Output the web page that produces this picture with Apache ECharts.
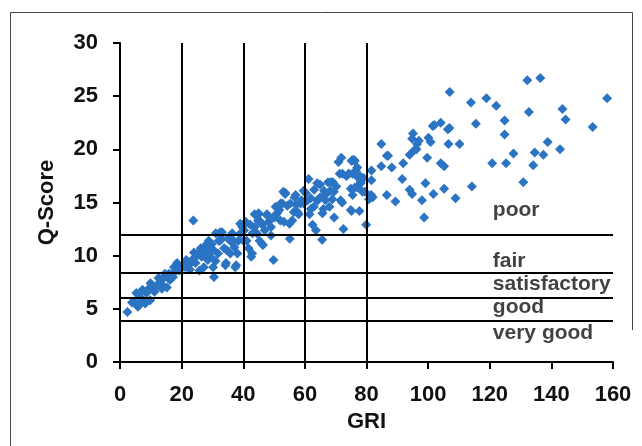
<!DOCTYPE html>
<html>
<head>
<meta charset="utf-8">
<script src="https://cdn.jsdelivr.net/npm/echarts@6/dist/echarts.min.js"></script>
<style>
  html, body { margin: 0; padding: 0; background: #fff; }
  #chart { width: 642px; height: 446px; }
</style>
</head>
<body>
<div id="chart"></div>
<script>
// GRI vs Q-Score observations
const gri = [
  2.4, 4.6, 6.4, 7.3, 8.2, 6.6, 5.3, 7.3, 8.6, 9.3, 10.9, 11.9, 9.9, 13.2, 14.6, 15.2, 16.2, 13.9, 17.2, 18.5,
  19.2, 17.9, 19.9, 15.9, 5.8, 11.2, 12.5, 14.2,
  3.9, 9.8, 13.6, 20.7, 22.3, 25.6, 27.2, 28.9, 17.5, 24.0,
  23.8, 21.2, 22.5, 23.8, 24.5, 25.2, 26.2, 26.5, 27.2, 27.8, 28.5, 29.1, 29.8, 30.5, 30.2, 31.1, 31.8, 32.5, 33.1, 33.8,
  34.4, 35.1, 35.8, 36.4, 37.7, 34.2, 37.1, 38.4, 39.1, 39.7, 38.1, 27.8, 25.8, 21.5, 24.0, 28.8, 31.0, 36.5, 33.0, 22.7,
  32.5, 36.9, 28.2, 30.4, 34.7, 27.1, 37.4, 29.3, 32.0,
  40.8, 41.1, 41.7, 42.6, 43.0, 43.7, 44.8, 45.3, 46.4, 47.0, 47.7, 48.3, 49.0, 49.8, 50.1, 51.0, 51.7, 52.0, 52.7, 53.6,
  54.3, 55.0, 55.1, 55.9, 56.7, 57.2, 58.0, 58.9, 59.6, 45.0, 44.4, 49.0, 43.7, 40.3, 46.2, 53.0, 57.0, 57.6, 59.6, 50.5,
  53.7, 52.1, 55.3, 45.0, 47.7, 50.4, 53.2, 39.0, 42.3, 45.6, 40.1, 46.1, 42.9, 58.6, 56.4,
  61.2, 60.9, 61.5, 62.5, 62.9, 63.6, 64.2, 64.9, 65.6, 66.0, 66.9, 67.5, 68.2, 68.9, 69.5, 70.2, 71.8, 70.9, 71.3, 74.2,
  73.5, 72.5, 72.1, 69.1, 75.2, 77.0, 76.2, 75.5, 75.5, 77.0, 76.2, 75.2, 78.1, 77.9, 77.7, 79.9, 60.3, 63.0, 65.0, 68.0,
  79.0, 79.5, 75.4, 76.5, 72.2,
  76.0, 74.3, 77.1, 64.0, 68.4, 66.2, 69.4, 74.9, 78.1, 61.9, 64.0, 66.7, 71.6, 78.7, 61.9, 65.7, 74.9,
  107.0, 113.9, 118.9, 122.1, 132.2, 136.4, 132.7, 158.1, 143.6, 144.6, 153.4, 115.5, 124.8, 124.8, 138.8, 142.8, 137.4, 134.6, 134.1, 127.7,
  125.3, 120.8, 130.9, 114.2, 110.2, 106.6, 106.4, 104.1, 101.5, 100.8, 100.1, 99.7, 104.1, 105.2, 108.9, 105.2, 101.7, 99.1, 98.0, 98.7,
  94.0, 94.8, 91.9, 91.6, 94.0, 94.8, 95.1, 96.4, 96.2, 95.4, 84.8, 86.6, 88.2, 84.8, 86.6, 89.4, 81.6, 81.6, 81.5, 80.8,
  102.0, 106.9, 97.0, 87.0, 82.0
];
const qScore = [
  4.7, 5.7, 5.4, 5.7, 5.5, 6.1, 6.5, 6.8, 6.5, 6.9, 7.1, 7.2, 7.4, 7.7, 8.3, 7.0, 7.7, 7.2, 8.0, 9.3,
  8.6, 8.5, 8.9, 8.3, 5.2, 6.6, 7.9, 7.9,
  5.6, 5.8, 6.9, 9.2, 9.1, 10.2, 10.7, 11.1, 8.9, 9.7,
  13.3, 8.9, 9.3, 9.7, 9.3, 10.2, 10.7, 9.9, 8.9, 10.8, 9.6, 10.4, 11.1, 8.0, 8.9, 12.1, 10.2, 11.4, 12.2, 10.7,
  9.3, 11.6, 10.2, 12.1, 9.1, 9.1, 10.8, 11.4, 12.1, 12.7, 10.2, 9.9, 8.6, 9.6, 10.3, 11.4, 9.5, 11.2, 11.6, 8.7,
  12.2, 11.4, 11.1, 10.5, 10.5, 10.2, 8.9, 9.9, 11.4,
  13.2, 11.4, 10.7, 9.9, 12.1, 12.7, 13.3, 11.4, 11.0, 12.4, 13.9, 13.2, 11.9, 9.6, 13.6, 14.0, 14.3, 13.3, 14.9, 15.8,
  14.7, 13.0, 11.6, 13.3, 15.5, 14.8, 13.9, 15.2, 16.1, 13.9, 12.1, 12.7, 13.9, 12.4, 12.9, 16.0, 15.7, 14.1, 14.9, 14.6,
  15.9, 14.9, 14.9, 14.0, 13.8, 13.8, 13.2, 13.0, 12.9, 13.2, 11.4, 11.1, 10.2, 14.9, 14.1,
  17.2, 15.2, 13.9, 12.9, 14.6, 12.4, 15.2, 16.7, 11.5, 14.4, 15.8, 16.9, 16.1, 15.3, 13.6, 16.5, 19.2, 18.8, 17.7, 17.7,
  17.5, 12.5, 15.0, 16.9, 14.2, 16.4, 16.4, 15.7, 17.7, 18.3, 18.9, 18.9, 16.9, 17.5, 14.2, 12.9, 15.9, 16.2, 15.5, 14.6,
  17.3, 16.0, 19.0, 18.0, 17.7,
  19.0, 17.7, 17.4, 16.8, 16.9, 16.1, 16.0, 16.3, 16.8, 15.4, 15.2, 15.2, 15.2, 16.0, 14.4, 14.0, 14.3,
  25.4, 24.4, 24.8, 24.1, 26.5, 26.7, 23.5, 24.8, 23.8, 22.8, 22.1, 22.4, 22.7, 21.4, 20.7, 20.0, 19.5, 19.7, 18.5, 19.6,
  18.7, 18.7, 16.9, 16.5, 20.5, 20.5, 21.9, 22.5, 22.2, 20.7, 21.1, 19.2, 18.7, 18.4, 15.4, 16.3, 15.8, 16.8, 15.2, 13.6,
  16.2, 15.8, 18.7, 17.2, 19.5, 21.0, 21.5, 20.5, 20.0, 19.9, 20.5, 19.4, 18.3, 18.4, 15.7, 15.1, 18.0, 17.1, 15.7, 15.3,
  22.3, 22.0, 20.8, 19.4, 15.5
];

// GRI class boundaries (vertical) and Q-Score class boundaries (horizontal)
const griBounds = [20, 40, 60, 80];
const qBounds = [12, 8.4, 6, 3.9];
const qClasses = ['poor', 'fair', 'satisfactory', 'good', 'very good'];
const qClassLabelAt = [14.3, 9.5, 7.35, 5.2, 2.7];
const xTicks = [0, 20, 40, 60, 80, 100, 120, 140, 160];
const yTicks = [0, 5, 10, 15, 20, 25, 30];

const points = gri.map((g, i) => [g, qScore[i]]);
const X_MAX = xTicks[xTicks.length - 1];
const Y_MAX = yTicks[yTicks.length - 1];

const lineStyle = { color: '#000', width: 2, type: 'solid' };
const boundaryLines = [
  ...griBounds.map(g => [{ coord: [g, 0] }, { coord: [g, Y_MAX] }]),
  ...qBounds.map(q => [{ coord: [0, q] }, { coord: [X_MAX, q] }])
];

const font = 'Arial, "Liberation Sans", sans-serif';
const ink = '#111';
const chart = echarts.init(document.getElementById('chart'), null, { renderer: 'canvas' });

chart.setOption({
  animation: false,
  backgroundColor: '#fff',
  grid: { left: 120, right: 29, top: 43, bottom: 84, containLabel: false },
  xAxis: {
    type: 'value', min: 0, max: X_MAX, interval: 20,
    name: 'GRI', nameLocation: 'middle', nameGap: 46,
    nameTextStyle: { fontFamily: font, fontWeight: 'bold', fontSize: 22, color: ink },
    axisLine: { show: true, lineStyle: { color: '#000', width: 2 } },
    axisTick: { show: true, inside: false, length: 7, lineStyle: { color: '#000', width: 2 } },
    axisLabel: { margin: 22, fontFamily: font, fontWeight: 'bold', fontSize: 22, color: ink },
    splitLine: { show: false }
  },
  yAxis: {
    type: 'value', min: 0, max: Y_MAX, interval: 5,
    name: 'Q-Score', nameLocation: 'middle', nameGap: 62, nameRotate: 90,
    nameTextStyle: { fontFamily: font, fontWeight: 'bold', fontSize: 22, color: ink },
    axisLine: { show: true, lineStyle: { color: '#000', width: 2 } },
    axisTick: { show: true, inside: false, length: 7, lineStyle: { color: '#000', width: 2 } },
    axisLabel: { margin: 22, fontFamily: font, fontWeight: 'bold', fontSize: 22, color: ink },
    splitLine: { show: false }
  },
  series: [
    {
      type: 'scatter',
      data: points,
      symbol: 'diamond',
      symbolSize: 10,
      itemStyle: { color: '#2b74c4', opacity: 1 },
      z: 3,
      markLine: {
        silent: true,
        symbol: ['none', 'none'],
        label: { show: false },
        lineStyle: lineStyle,
        data: boundaryLines,
        z: 4
      }
    },
    {
      type: 'scatter',
      data: qClasses.map((name, i) => ({ value: [121, qClassLabelAt[i]], name })),
      symbolSize: 0,
      silent: true,
      z: 5,
      label: {
        show: true,
        position: 'right',
        distance: 0,
        formatter: p => p.name,
        fontFamily: font,
        fontWeight: 'bold',
        fontSize: 21,
        color: ink
      }
    }
  ],
  graphic: [
    {
      type: 'polyline',
      shape: { points: [[10.5, 446], [10.5, 12.5], [632.5, 12.5], [632.5, 330]] },
      style: { stroke: '#444', lineWidth: 1, fill: null },
      silent: true
    }
  ]
});
</script>
</body>
</html>
